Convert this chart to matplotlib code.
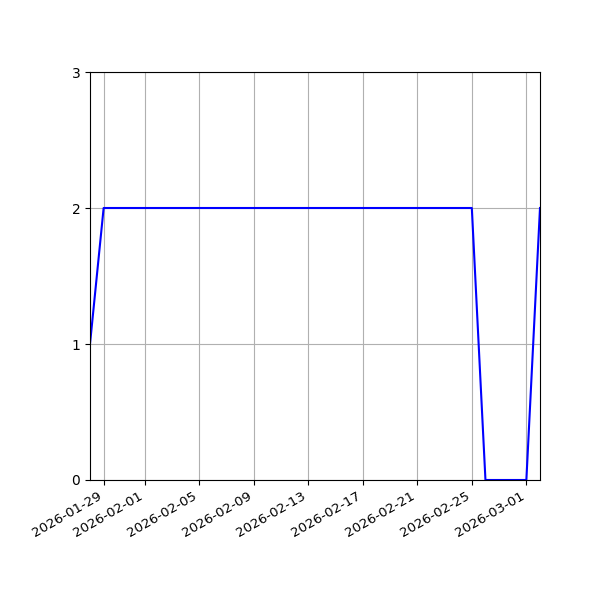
import matplotlib
matplotlib.use("Agg")
import matplotlib.pyplot as plt
import pandas as pd

dates = pd.date_range("2026-01-28", "2026-03-02", freq="D")
values = [1] + [2] * 28 + [0, 0, 0, 0] + [2]

fig, ax = plt.subplots(figsize=(6, 6), dpi=100)
ax.plot(dates, values, color="blue")
ax.set_xlim(dates[0], dates[-1])
ax.set_ylim(0, 3)
ax.set_yticks([0, 1, 2, 3])
ax.grid(True)
ax.tick_params(axis="x", labelsize=9.6)
fig.autofmt_xdate()
fig.subplots_adjust(left=0.15, right=0.9, top=0.88, bottom=0.2)
fig.savefig("out.png", dpi=100)
